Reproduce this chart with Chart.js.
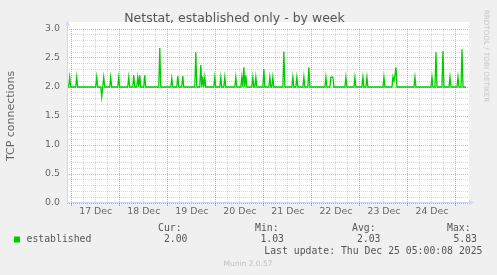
<!DOCTYPE html>
<html><head><meta charset="utf-8">
<script src="https://cdn.jsdelivr.net/npm/chart.js@4"></script>
<style>html,body{margin:0;padding:0;background:#F0F0F0;}canvas{display:block}</style>
</head><body>
<canvas id="c" width="497" height="275" style="width:497px;height:275px"></canvas>
<script>
// ---- data ----
const chartTitle = 'Netstat, established only - by week';
const yAxisTitle = 'TCP connections';
const seriesName = 'established';
const baseline = 2.0;
const startHour = -2.5;   // hours relative to 17 Dec 00:00
const endHour = 197;
const spikeHours  = [-1, 2.5, 12.5, 15, 16, 19.5, 23.5, 28.5, 31, 33, 34, 36.5, 44, 50, 53, 55.5, 62, 64.5, 65.5, 66.5, 71.5, 74.5, 76.5, 82, 85, 86, 87, 90.5, 92, 96, 99, 100.5, 106, 110.5, 112.5, 116, 118.5, 127, 129.5, 130, 130.5, 137, 141.5, 145.5, 147.5, 156, 160.5, 161, 161.5, 162, 171.5, 180, 182, 185.5, 189, 193, 195];
const spikeValues = [2.17, 2.17, 2.17, 1.83, 2.17, 2.17, 2.17, 2.17, 2.2, 2.17, 2.2, 2.2, 2.67, 2.15, 2.19, 2.19, 2.6, 2.38, 2.18, 2.17, 2.17, 2.17, 2.17, 2.17, 2.17, 2.34, 2.2, 2.17, 2.17, 2.31, 2.17, 2.17, 2.61, 2.17, 2.17, 2.17, 2.34, 2.17, 2.17, 2.17, 2.17, 2.17, 2.17, 2.17, 2.17, 2.17, 2.17, 2.1, 2.2, 2.34, 2.17, 2.17, 2.6, 2.62, 2.17, 2.17, 2.65];
const dayLabels = ['17 Dec', '18 Dec', '19 Dec', '20 Dec', '21 Dec', '22 Dec', '23 Dec', '24 Dec'];
const yTickLabels = ['0.0', '0.5', '1.0', '1.5', '2.0', '2.5', '3.0'];
const legendHeaders = ['Cur:', 'Min:', 'Avg:', 'Max:'];
const legendValues = ['2.00', '1.03', '2.03', '5.83'];
const lastUpdate = 'Last update: Thu Dec 25 05:00:08 2025';
const watermark = 'Munin 2.0.57';
const sideText = 'RRDTOOL / TOBI OETIKER';

// ---- build series ----
const pts = new Map();
pts.set(startHour, baseline);
pts.set(endHour, baseline);
spikeHours.forEach((h, i) => pts.set(h, spikeValues[i]));
spikeHours.forEach(h => [h - 0.5, h + 0.5].forEach(n => { if (!pts.has(n)) pts.set(n, baseline); }));
const seriesData = [...pts.entries()].sort((a, b) => a[0] - b[0]).map(([x, y]) => ({x, y}));

const MINOR = 'rgba(143,143,143,0.35)';
const MAJOR = 'rgba(240,0,0,0.36)';
const AXIS = '#CFD6F8';
const FONTC = '#666666';
const GREEN = '#00CC00';

const deco = {
  id: 'deco',
  beforeDraw(chart) {
    const {ctx, chartArea: a} = chart;
    ctx.save();
    ctx.fillStyle = '#F0F0F0';
    ctx.fillRect(0, 0, chart.width, chart.height);
    ctx.fillStyle = '#FFFFFF';
    ctx.fillRect(a.left, a.top - 7, a.right - a.left, a.bottom - a.top + 7);
    ctx.restore();
  },
  afterDraw(chart) {
    const {ctx, chartArea: a} = chart;
    ctx.save();
    // axes with arrows
    ctx.strokeStyle = AXIS; ctx.fillStyle = AXIS; ctx.lineWidth = 1;
    const lx = Math.round(a.left) + 0.5, by = Math.round(a.bottom) - 0.5;
    ctx.beginPath(); ctx.moveTo(lx, a.bottom); ctx.lineTo(lx, a.top - 4); ctx.stroke();
    ctx.beginPath(); ctx.moveTo(lx - 2.5, a.top - 3.5); ctx.lineTo(lx + 2.5, a.top - 3.5); ctx.lineTo(lx, a.top - 8.5); ctx.closePath(); ctx.fill();
    ctx.beginPath(); ctx.moveTo(a.left, by); ctx.lineTo(a.right, by); ctx.stroke();
    ctx.beginPath(); ctx.moveTo(a.right, by - 2.5); ctx.lineTo(a.right, by + 2.5); ctx.lineTo(a.right + 5, by); ctx.closePath(); ctx.fill();

    // legend table
    const mono = '9.8px "DejaVu Sans Mono"';
    ctx.font = mono; ctx.fillStyle = '#555555'; ctx.textBaseline = 'middle';
    const hdrX = [158, 255, 352, 447];
    const valR = [187.5, 284, 380.5, 477];
    ctx.textAlign = 'left';
    legendHeaders.forEach((t, i) => ctx.fillText(t, hdrX[i], 228.5));
    ctx.fillText(seriesName, 26.5, 239.5);
    ctx.textAlign = 'right';
    legendValues.forEach((t, i) => ctx.fillText(t, valR[i], 239.5));
    ctx.fillText(lastUpdate, 482.5, 251.5);
    ctx.fillStyle = GREEN;
    ctx.fillRect(14, 236.5, 6, 6);

    // watermark
    ctx.font = '7.5px "DejaVu Sans"'; ctx.fillStyle = '#C0C0C0'; ctx.textAlign = 'center';
    ctx.fillText(watermark, 248, 264.5);
    // side text
    ctx.save();
    ctx.translate(486, 56);
    ctx.rotate(Math.PI / 2);
    ctx.font = '7.2px "DejaVu Sans"'; ctx.fillStyle = '#C8C8C8';
    ctx.fillText(sideText, 0, 0);
    ctx.restore();
    ctx.restore();
  }
};

new Chart(document.getElementById('c'), {
  type: 'line',
  data: {datasets: [{label: seriesName, data: seriesData, borderColor: GREEN, borderWidth: 1.3,
    pointRadius: 0, tension: 0, fill: false}]},
  options: {
    responsive: false, animation: false, devicePixelRatio: 1,
    layout: {padding: {left: 0, right: 28, top: 0, bottom: 52}},
    plugins: {
      legend: {display: false}, tooltip: {enabled: false},
      title: {display: true, text: chartTitle, color: '#555555',
        font: {family: 'DejaVu Sans', size: 12.5, weight: 'normal'}, padding: {top: 11, bottom: 3}}
    },
    scales: {
      x: {
        type: 'linear', min: -2.35, max: 198.5,
        afterBuildTicks: s => { const t = []; for (let h = 0; h <= 24 * dayLabels.length; h += 6) t.push({value: h}); s.ticks = t; },
        afterFit: s => { s.height = 20; },
        ticks: {autoSkip: false, maxRotation: 0, minRotation: 0, padding: 0, color: FONTC,
          font: {family: 'DejaVu Sans', size: 9.4},
          callback: v => (v % 24 === 12 ? dayLabels[Math.floor(v / 24)] : '')},
        grid: {lineWidth: 1, tickLength: 3,
          color: c => (c.tick && c.tick.value % 24 === 0 ? MAJOR : MINOR),
          tickColor: c => (c.tick && c.tick.value % 24 === 0 ? MAJOR : 'rgba(0,0,0,0)')},
        border: {display: false, dash: [1, 1]}
      },
      y: {
        min: 0, max: 3.0,
        afterBuildTicks: s => { const t = []; for (let i = 0; i <= 30; i++) t.push({value: i / 10}); s.ticks = t; },
        afterFit: s => { s.width = 67; },
        ticks: {autoSkip: false, padding: 7, color: FONTC, font: {family: 'DejaVu Sans', size: 9.4},
          callback: (v, i) => (i % 5 === 0 ? yTickLabels[i / 5] : '')},
        grid: {drawTicks: false, lineWidth: 1,
          color: c => (c.index % 5 === 0 ? MAJOR : MINOR)},
        border: {display: false, dash: [1, 1]},
        title: {display: true, text: yAxisTitle, color: FONTC,
          font: {family: 'DejaVu Sans', size: 11}, padding: {top: 4.5, bottom: 0}}
      }
    }
  },
  plugins: [deco]
});
</script>
</body></html>
